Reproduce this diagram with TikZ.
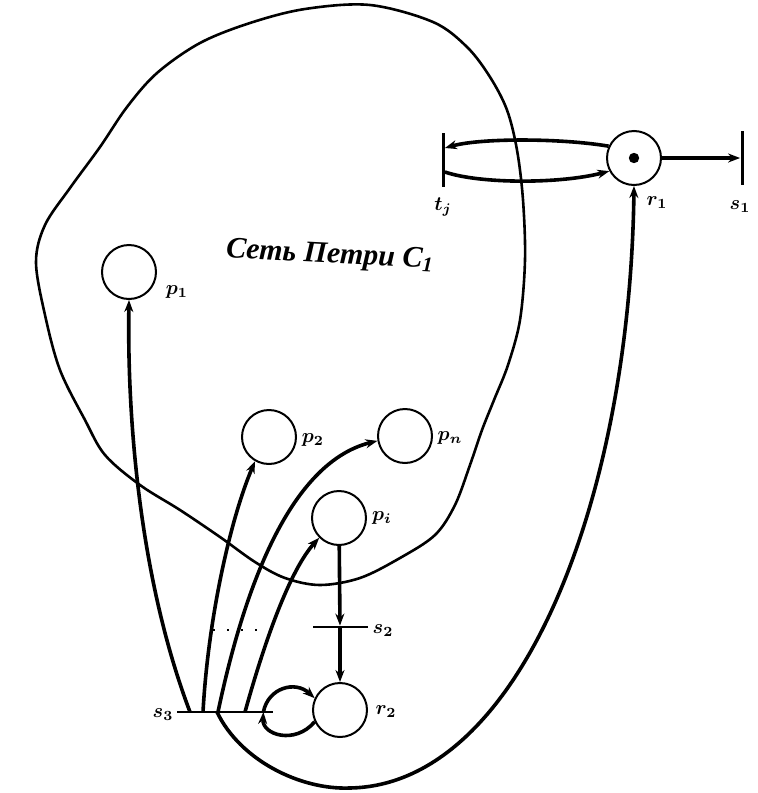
\documentclass[tikz,border=0pt]{standalone}
\usepackage{fontspec}
\newfontfamily\cyrfont{Liberation Serif}
\usetikzlibrary{arrows.meta}

\begin{document}
\begin{tikzpicture}[x=0.5pt,y=-0.5pt,
  place/.style={circle,draw=black,line width=1pt,minimum size=27pt,inner sep=0pt},
  vbar/.style={rectangle,fill=black,inner sep=0pt,minimum width=1.5pt,minimum height=27pt},
  hbar/.style={rectangle,fill=black,inner sep=0pt,minimum height=1pt,minimum width=27.5pt},
  lbl/.style={inner sep=0pt,font=\boldmath},
  flow/.style={line width=1.8pt,-{Stealth[length=6pt,width=4.5pt]}}]
\useasboundingbox (0,0) rectangle (757,793);
% the net C1
\draw[line width=1.3pt] plot[smooth cycle,tension=0.55] coordinates {(370,5) (433,22) (467,47) (490,77) (507,110) (517,150) (523,200) (525,260) (520,320) (508,365) (494,400) (482,430) (470,465) (455,505) (435,535) (400,558) (360,578) (320,585) (285,578) (255,562) (220,537) (180,510) (140,485) (105,455) (85,420) (60,370) (45,315) (36,262) (45,225) (70,188) (100,147) (127,107) (157,73) (200,43) (250,23) (305,9)};
\node[font=\cyrfont\bfseries\itshape\fontsize{15}{18}\selectfont,rotate=-3] (title) at (330,256) {Сеть Петри C\textsubscript{1}};
% places
\node[place] (p1) at (129,272) {};
\node[place] (p2) at (269,437) {};
\node[place] (pn) at (405,436) {};
\node[place] (pi) at (339,518) {};
\node[place] (r2) at (340,710) {};
\node[place] (r1) at (634,158) {};
\fill (r1.center) circle (2.6pt);
% transitions
\node[vbar] (t1) at (443,160) {};
\node[vbar] (s1) at (742,158) {};
\node[hbar] (s2) at (340,627) {};
\node[hbar,minimum width=48pt] (s3) at (225,712) {};
% labels
\node[lbl] (p1lbl) at (177,292) {$p_1$};
\node[lbl] (p2lbl) at (313,440) {$p_2$};
\node[lbl] (pnlbl) at (450,438) {$p_n$};
\node[lbl] (pilbl) at (382,518) {$p_i$};
\node[lbl] (r1lbl) at (657,203) {$r_1$};
\node[lbl] (r2lbl) at (386,712) {$r_2$};
\node[lbl] (t1lbl) at (443,207) {$t_j$};
\node[lbl] (s1lbl) at (740,207) {$s_1$};
\node[lbl] (s2lbl) at (383,631) {$s_2$};
\node[lbl] (s3lbl) at (163,715) {$s_3$};
% arcs
\draw[flow] (r1.155) .. controls (560,138) and (480,138) .. ([yshift=6pt]t1.east);
\draw[flow] ([yshift=-6pt]t1.east) .. controls (480,184) and (560,184) .. (r1.208);
\draw[flow] (r1) -- (s1);
\draw[flow] (pi) -- (s2);
\draw[flow] (s2) -- (r2);
\draw[flow] ([xshift=-17.5pt]s3.center) .. controls (140,580) and (127,420) .. (p1.south);
\draw[flow] ([xshift=-11pt]s3.center) .. controls (208,620) and (230,520) .. (p2.240);
\draw[flow] ([xshift=-3.5pt]s3.center) .. controls (250,560) and (300,460) .. (pn.190);
\draw[flow] ([xshift=10pt]s3.center) .. controls (265,640) and (290,570) .. (pi.225);
\draw[flow] ([xshift=-5pt]s3.east) .. controls (268,688) and (295,680) .. (r2.155);
\draw[flow] (r2.205) .. controls (295,745) and (262,735) .. ([xshift=-5pt]s3.east);
\draw[flow] ([xshift=-4pt]s3.center) .. controls (240,760) and (300,790) .. (350,788) .. controls (520,785) and (630,500) .. (r1.south);
\draw[line width=1pt,dash pattern=on 1pt off 6pt] (213,630) -- (265,630);
\end{tikzpicture}
\end{document}
